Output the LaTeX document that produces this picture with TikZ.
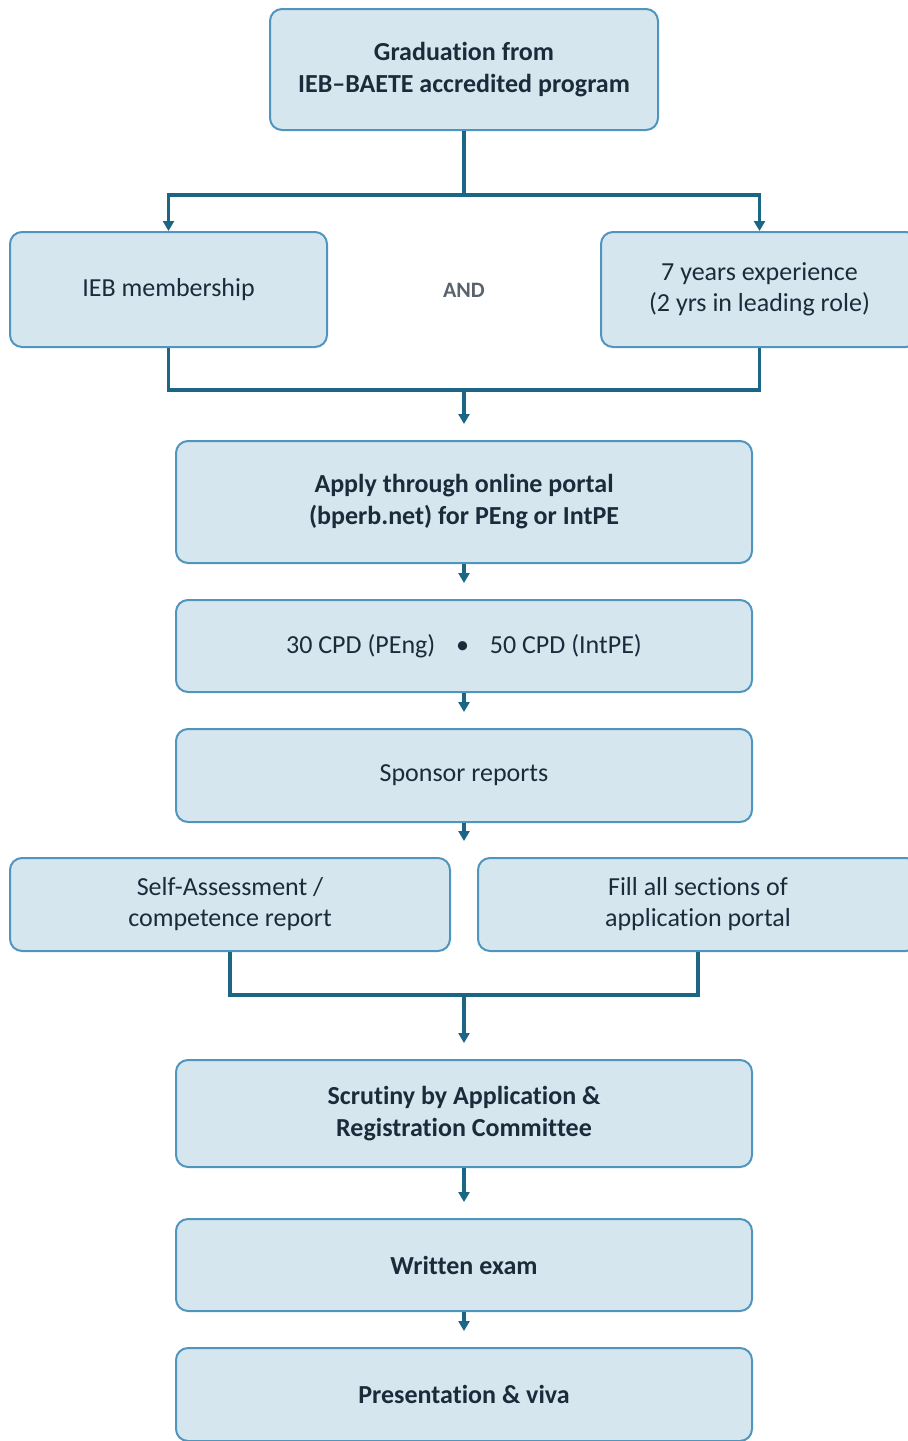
\documentclass[tikz,border=0pt]{standalone}
\usepackage{fontspec}
\setmainfont{Carlito}[Ligatures={TeX,NoCommon}]
\usetikzlibrary{arrows.meta, positioning}

\definecolor{panelfill}{HTML}{D6E6EF}
\definecolor{paneledge}{HTML}{4F95BD}
\definecolor{linkcol}{HTML}{1B6684}
\definecolor{textcol}{HTML}{1C2B3A}
\definecolor{andcol}{HTML}{58636E}

\begin{document}
\begin{tikzpicture}[x=0.5pt, y=-0.5pt,
    panel/.style={draw=paneledge, line width=1pt, fill=panelfill, rounded corners=6pt,
        align=center, text=textcol, inner sep=0pt, font=\fontsize{13}{15.5}\selectfont},
    keypanel/.style={panel, font=\fontsize{13}{16}\selectfont\bfseries},
    link/.style={draw=linkcol, line width=1.8pt},
    flow/.style={link, -{Triangle[width=5.5pt,length=5pt]}},
    gap/.style={shorten >=8pt}]
    \useasboundingbox (0,0) rectangle (907,1441);

    % Bước đầu: tốt nghiệp
    \node[keypanel, minimum width=194pt, minimum height=60.5pt] (grad) at (464,69.5)
        {Graduation from\\IEB–BAETE accredited program};

    % Hai điều kiện song song
    \node[panel, minimum width=158.5pt, minimum height=57.5pt] (ieb) at (168.5,289.5) {IEB membership};
    \node[panel, minimum width=158.5pt, minimum height=57.5pt] (exp) at (759.5,289.5)
        {7 years experience\\(2 yrs in leading role)};
    \node[font=\fontsize{11}{12}\selectfont\bfseries, text=andcol] (and) at (464,290) {AND};

    % Các bước nộp hồ sơ
    \node[keypanel, minimum width=288pt, minimum height=61pt] (apply) at (464,502)
        {Apply through online portal\\(bperb.net) for PEng or IntPE};
    \node[panel, minimum width=288pt, minimum height=46pt] (cpd) at (464,646)
        {30 CPD (PEng)\hspace{0.8em}\textbullet\hspace{0.8em}50 CPD (IntPE)};
    \node[panel, minimum width=288pt, minimum height=46.5pt] (sponsor) at (464,775.5) {Sponsor reports};
    \node[panel, minimum width=220pt, minimum height=46.5pt] (self) at (230,904.5)
        {Self-Assessment /\\competence report};
    \node[panel, minimum width=220pt, minimum height=46.5pt] (fill) at (698,904.5)
        {Fill all sections of\\application portal};

    % Thẩm định và thi
    \node[keypanel, minimum width=288pt, minimum height=53.5pt] (scrutiny) at (464,1113.5)
        {Scrutiny by Application \&\\Registration Committee};
    \node[keypanel, minimum width=288pt, minimum height=46pt] (written) at (464,1265) {Written exam};
    \node[keypanel, minimum width=288pt, minimum height=46.5pt] (present) at (464,1394.5) {Presentation \& viva};

    % Điểm rẽ nhánh và gộp nhánh
    \coordinate (split) at (464,195);
    \coordinate (merge) at (464,390);
    \coordinate (gather) at (464,995);

    % Đường nối
    \draw[link] (grad.south) -- (split);
    \draw[flow] (split) -| (ieb.north);
    \draw[flow] (split) -| (exp.north);
    \draw[link] (ieb.south) |- (merge) -| (exp.south);
    \draw[flow, gap] (merge) -- (apply.north);
    \draw[flow, gap] (apply) -- (cpd);
    \draw[flow, gap] (cpd) -- (sponsor);
    \draw[flow, gap] (sponsor.south) -- (sponsor.south |- self.north);
    \draw[link] (self.south) |- (gather) -| (fill.south);
    \draw[flow, gap] (gather) -- (scrutiny.north);
    \draw[flow, gap] (scrutiny) -- (written);
    \draw[flow, gap] (written) -- (present);

\end{tikzpicture}
\end{document}
